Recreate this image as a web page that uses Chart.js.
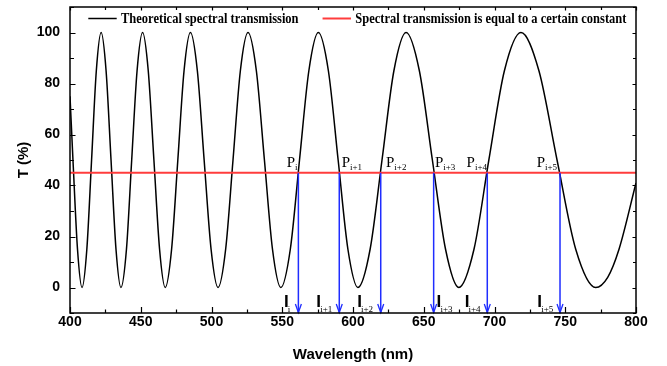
<!DOCTYPE html>
<html><head><meta charset="utf-8">
<script src="https://cdn.jsdelivr.net/npm/chart.js@4.4.0/dist/chart.umd.min.js"></script>
<style>html,body{margin:0;padding:0;background:#fff}#wrap{width:667px;height:366px}</style>
</head><body><div id="wrap"><canvas id="c" width="667" height="366"></canvas></div>
<script>
// ---- data ----
const curveWavelength = [400, 402.1, 405.3, 408.5,
  411.9, 415.25, 418.6, 422, 425.5, 429, 432.5, 436,
  439.9, 443.6, 447.4, 451.3, 455.3, 459.3, 463.3, 467.3,
  471.8, 476.2, 480.6, 485.1, 490, 494.8, 499.7, 504.6,
  510, 515.2, 520.4, 525.8, 531.7, 537.4, 543.1, 549,
  555.7, 562.2, 568.8, 575.5, 582.6, 589.5, 596.4, 603.5,
  612.1, 620.5, 628.9, 637.5, 646.9, 656.1, 665.4, 674.8,
  685.5, 696, 707, 718.7, 731.4, 744.2, 757.4, 771.5,
  780, 788, 800];
const curveT = [75, 50, 15, 0,
  15, 50, 85, 100, 85, 50, 15, 0,
  15, 50, 85, 100, 85, 50, 15, 0,
  15, 50, 85, 100, 85, 50, 15, 0,
  15, 50, 85, 100, 85, 50, 15, 0,
  15, 50, 85, 100, 85, 50, 15, 0,
  15, 50, 85, 100, 85, 50, 15, 0,
  15, 50, 85, 100, 85, 50, 15, 0,
  4, 15, 41];
const constantT = 45;
const constantRange = [400, 800];
const crossingWavelength = [561.4, 590.3, 619.6, 657.0, 694.9, 746.3];
const pointSubscripts = ['i', 'i+1', 'i+2', 'i+3', 'i+4', 'i+5'];
const pLabelWavelength = [553.1, 592.0, 623.3, 657.9, 680.3, 729.8];
const pLabelT = 47.4;
const iLabelWavelength = [551.9, 574.8, 603.7, 659.8, 679.6, 731.0];
const iLabelT = -7.6;
const iSubT = -9.6;
const xTicks = [400, 450, 500, 550, 600, 650, 700, 750, 800];
const xMinorTicks = [425, 475, 525, 575, 625, 675, 725, 775];
const yTicks = [0, 20, 40, 60, 80, 100];
const yMinorTicks = [-10, 10, 30, 50, 70, 90, 110];
const xRange = [400, 800];
const yRange = [-10, 110];
const seriesNames = ['Theoretical spectral transmission', 'Spectral transmission is equal to a certain constant'];

// ---- build datasets ----
const BLACK = '#000000', RED = '#ff3c3c', BLUE = '#1f2dff';
const datasets = [
  { label: seriesNames[0], data: curveWavelength.map((w, i) => ({x: w, y: curveT[i]})),
    borderColor: BLACK, borderWidth: 1.5, showLine: true, pointRadius: 0,
    cubicInterpolationMode: 'monotone', order: 3 },
  { label: seriesNames[1], data: constantRange.map(w => ({x: w, y: constantT})),
    borderColor: RED, borderWidth: 2, showLine: true, pointRadius: 0, order: 2 }
];
crossingWavelength.forEach((w, i) => {
  datasets.push({ label: 'arrow' + i, isArrow: true,
    data: [{x: w, y: constantT}, {x: w, y: yRange[0]}],
    borderColor: BLUE, borderWidth: 1.5, showLine: true, pointRadius: 0, order: 1 });
});

const decorPlugin = {
  id: 'decor',
  afterDatasetsDraw(chart) {
    const ctx = chart.ctx, ca = chart.chartArea;
    const xs = chart.scales.x, ys = chart.scales.y;
    ctx.save();
    // arrowheads
    chart.data.datasets.forEach((ds, i) => {
      if (!ds.isArrow) return;
      const pt = chart.getDatasetMeta(i).data[1];
      ctx.strokeStyle = BLUE; ctx.lineWidth = 1.3;
      ctx.beginPath();
      ctx.moveTo(pt.x - 3, pt.y - 9);
      ctx.lineTo(pt.x, pt.y - 0.5);
      ctx.lineTo(pt.x + 3, pt.y - 9);
      ctx.stroke();
    });
    // frame
    ctx.strokeStyle = '#000'; ctx.lineWidth = 1.5;
    ctx.strokeRect(ca.left, ca.top, ca.right - ca.left, ca.bottom - ca.top);
    // tick marks (inward)
    ctx.lineWidth = 1.2;
    ctx.beginPath();
    const tickX = (v, len, top) => {
      const px = Math.round(xs.getPixelForValue(v)) + 0.5;
      if (top) { ctx.moveTo(px, ca.top); ctx.lineTo(px, ca.top + len); }
      else { ctx.moveTo(px, ca.bottom); ctx.lineTo(px, ca.bottom - len); }
    };
    const tickY = (v, len, right) => {
      const py = Math.round(ys.getPixelForValue(v)) + 0.5;
      if (right) { ctx.moveTo(ca.right, py); ctx.lineTo(ca.right - len, py); }
      else { ctx.moveTo(ca.left, py); ctx.lineTo(ca.left + len, py); }
    };
    xTicks.forEach(v => { tickX(v, 6, false); tickX(v, 3.5, true); });
    xMinorTicks.forEach(v => { tickX(v, 3.5, false); tickX(v, 3, true); });
    yTicks.forEach(v => { tickY(v, 5.5, false); tickY(v, 3.5, true); });
    yMinorTicks.forEach(v => { tickY(v, 4, false); tickY(v, 3, true); });
    ctx.stroke();

    // P labels
    ctx.fillStyle = '#000';
    ctx.textBaseline = 'alphabetic'; ctx.textAlign = 'left';
    pLabelWavelength.forEach((w, k) => {
      const px = xs.getPixelForValue(w), py = ys.getPixelForValue(pLabelT);
      ctx.font = '15px "Liberation Serif", "Times New Roman", serif';
      ctx.fillText('P', px, py);
      const pw = ctx.measureText('P').width;
      ctx.font = '9px "Liberation Serif", "Times New Roman", serif';
      ctx.fillText(pointSubscripts[k], px + pw, py + 3.5);
    });
    // I labels
    iLabelWavelength.forEach((w, k) => {
      const px = xs.getPixelForValue(w), py = ys.getPixelForValue(iLabelT);
      ctx.font = 'bold 17px "Liberation Sans", Arial, sans-serif';
      ctx.fillText('I', px - 1, py);
      ctx.font = '9px "Liberation Serif", "Times New Roman", serif';
      ctx.fillText(pointSubscripts[k], px + 2.8, ys.getPixelForValue(iSubT));
    });

    // legend
    const ly = ca.top + 11.5;
    let lx = ca.left + 18.3;
    [0, 1].forEach(i => {
      const ds = chart.data.datasets[i];
      ctx.strokeStyle = ds.borderColor; ctx.lineWidth = ds.borderWidth;
      ctx.beginPath(); ctx.moveTo(lx, ly); ctx.lineTo(lx + 28.4, ly); ctx.stroke();
      lx += 32.7;
      ctx.save();
      ctx.translate(lx, ly + 4);
      ctx.scale(0.893, 1);
      ctx.font = 'bold 14px "Liberation Serif", "Times New Roman", serif';
      ctx.fillStyle = '#000';
      ctx.fillText(ds.label, 0, 0);
      const tw = ctx.measureText(ds.label).width * 0.893;
      ctx.restore();
      lx += tw + 24;
    });
    ctx.restore();
  }
};

const tickFont = { family: '"Liberation Sans", Arial, sans-serif', size: 14, weight: 'bold' };
new Chart(document.getElementById('c'), {
  type: 'scatter',
  data: { datasets },
  options: {
    responsive: false, animation: false, devicePixelRatio: 1, events: [],
    layout: { padding: { top: 7, right: 31, bottom: 0, left: 0 } },
    plugins: { legend: { display: false }, tooltip: { enabled: false } },
    scales: {
      x: { type: 'linear', min: xRange[0], max: xRange[1],
        afterBuildTicks: s => { s.ticks = xTicks.map(v => ({value: v})); },
        afterFit: s => { s.height = 53; s.paddingLeft = 0; s.paddingRight = 0; },
        grid: { display: false, drawTicks: false }, border: { display: false },
        ticks: { font: tickFont, color: '#000', padding: 1, maxRotation: 0 },
        title: { display: true, text: 'Wavelength (nm)', color: '#000',
          font: { family: '"Liberation Sans", Arial, sans-serif', size: 15, weight: 'bold' },
          padding: { top: 0, bottom: 2 } } },
      y: { type: 'linear', min: yRange[0], max: yRange[1],
        afterBuildTicks: s => { s.ticks = yTicks.map(v => ({value: v})); },
        afterFit: s => { s.width = 70; s.paddingTop = 0; s.paddingBottom = 0; },
        grid: { display: false, drawTicks: false }, border: { display: false },
        ticks: { font: tickFont, color: '#000', padding: 10 },
        title: { display: true, text: 'T (%)', color: '#000',
          font: { family: '"Liberation Sans", Arial, sans-serif', size: 15, weight: 'bold' },
          padding: { top: 15, bottom: 0 } } }
    }
  },
  plugins: [decorPlugin]
});
</script></body></html>
